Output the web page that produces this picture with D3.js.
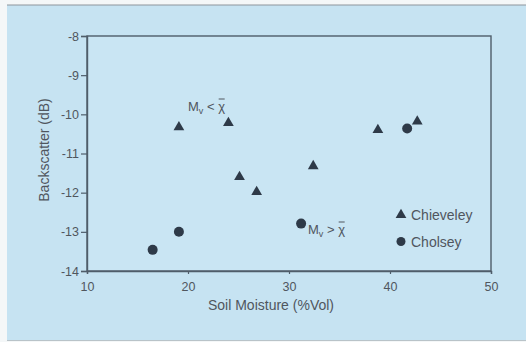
<!DOCTYPE html>
<html>
<head>
<meta charset="utf-8">
<script src="https://cdn.jsdelivr.net/npm/d3@7"></script>
<style>
  html, body { margin: 0; padding: 0; background: #ffffff; }
  svg { display: block; }
  text { font-family: "Liberation Sans", Arial, sans-serif; fill: #50565e; }
</style>
</head>
<body>
<svg id="chart" width="526" height="342"></svg>
<script>
// Soil moisture (%Vol) vs. backscatter (dB) at two sites
const chieveleyMoisture = [19.1, 24.0, 25.1, 26.8, 32.4, 38.8, 42.7];
const chieveleyBackscatter = [-10.33, -10.22, -11.6, -11.98, -11.32, -10.4, -10.18];
const cholseyMoisture = [16.5, 19.1, 31.2, 41.7];
const cholseyBackscatter = [-13.46, -13.0, -12.79, -10.36];
const xTicks = [10, 20, 30, 40, 50];
const yTicks = [-8, -9, -10, -11, -12, -13, -14];
const seriesNames = ["Chieveley", "Cholsey"];

const svg = d3.select("#chart");
const W = 526, H = 342;
const plot = { left: 87, right: 491, top: 36, bottom: 271 };

// panel
svg.append("rect").attr("x", 0).attr("y", 0).attr("width", W).attr("height", H).attr("fill", "#f4f7f8");
svg.append("rect").attr("x", 7).attr("y", 5).attr("width", W - 7).attr("height", H - 7).attr("fill", "#c6e3f2");
svg.append("line").attr("x1", 7).attr("x2", W).attr("y1", 5).attr("y2", 5)
  .attr("stroke", "#8d969c").attr("stroke-width", 1.2);
svg.append("line").attr("x1", 7).attr("x2", W).attr("y1", H - 1.5).attr("y2", H - 1.5)
  .attr("stroke", "#b9c3c8").attr("stroke-width", 1);

const x = d3.scaleLinear().domain([10, 50]).range([plot.left, plot.right]);
const y = d3.scaleLinear().domain([-14, -8]).range([plot.bottom, plot.top]);

// frame
svg.append("rect")
  .attr("x", plot.left).attr("y", plot.top)
  .attr("width", plot.right - plot.left).attr("height", plot.bottom - plot.top)
  .attr("fill", "#c9e5f3").attr("stroke", "#4f5d6a").attr("stroke-width", 1.4);

// axes
const xAxis = svg.append("g").attr("transform", `translate(0,${plot.bottom})`)
  .call(d3.axisBottom(x).tickValues(xTicks).tickFormat(d3.format("d")).tickSize(3).tickPadding(8));
const yAxis = svg.append("g").attr("transform", `translate(${plot.left},0)`)
  .call(d3.axisLeft(y).tickValues(yTicks).tickFormat(d => String(d)).tickSize(6).tickPadding(2));
[xAxis, yAxis].forEach(g => {
  g.select(".domain").attr("stroke", "#4f5d6a").attr("stroke-width", 1.4);
  g.selectAll(".tick line").attr("stroke", "#4f5d6a").attr("stroke-width", 1.2);
  g.selectAll(".tick text").attr("font-size", 12.5).attr("fill", "#50565e")
    .style("font-family", "'Liberation Sans', Arial, sans-serif");
});

// axis titles
svg.append("text").attr("x", 271).attr("y", 310).attr("text-anchor", "middle")
  .attr("font-size", 14).text("Soil Moisture (%Vol)");
svg.append("text").attr("transform", "translate(49,150) rotate(-90)").attr("text-anchor", "middle")
  .attr("font-size", 14).text("Backscatter (dB)");

const markColor = "#2e3a48";
const tri = d3.symbol().type(d3.symbolTriangle).size(50);

// Chieveley triangles
svg.append("g").selectAll("path")
  .data(d3.zip(chieveleyMoisture, chieveleyBackscatter))
  .join("path")
  .attr("d", tri)
  .attr("transform", d => `translate(${x(d[0])},${y(d[1])})`)
  .attr("fill", markColor);

// Cholsey circles
svg.append("g").selectAll("circle")
  .data(d3.zip(cholseyMoisture, cholseyBackscatter))
  .join("circle")
  .attr("cx", d => x(d[0])).attr("cy", d => y(d[1]))
  .attr("r", 5).attr("fill", markColor);

// annotations: Mv relative to the mean (chi with an overbar)
function annotate(px, py, op) {
  const t = svg.append("text").attr("x", px).attr("y", py).attr("font-size", 13);
  t.append("tspan").text("M");
  t.append("tspan").attr("font-size", 9).attr("dy", 3).text("v");
  t.append("tspan").attr("dy", -3).text(" " + op + " ");
  t.append("tspan").text("χ");
  const box = t.node().getBBox();
  const chiWidth = 7;
  svg.append("line")
    .attr("x1", box.x + box.width - chiWidth + 0.5).attr("x2", box.x + box.width - 0.5)
    .attr("y1", py - 12).attr("y2", py - 12)
    .attr("stroke", "#50565e").attr("stroke-width", 1);
}
annotate(188, 111, "<");
annotate(308, 234, ">");

// legend
const legend = svg.append("g");
legend.append("path").attr("d", tri).attr("transform", "translate(401,215)").attr("fill", markColor);
legend.append("circle").attr("cx", 401).attr("cy", 241.5).attr("r", 4.5).attr("fill", markColor);
legend.append("text").attr("x", 411).attr("y", 220).attr("font-size", 14).text(seriesNames[0]);
legend.append("text").attr("x", 411).attr("y", 246.5).attr("font-size", 14).text(seriesNames[1]);
</script>
</body>
</html>
